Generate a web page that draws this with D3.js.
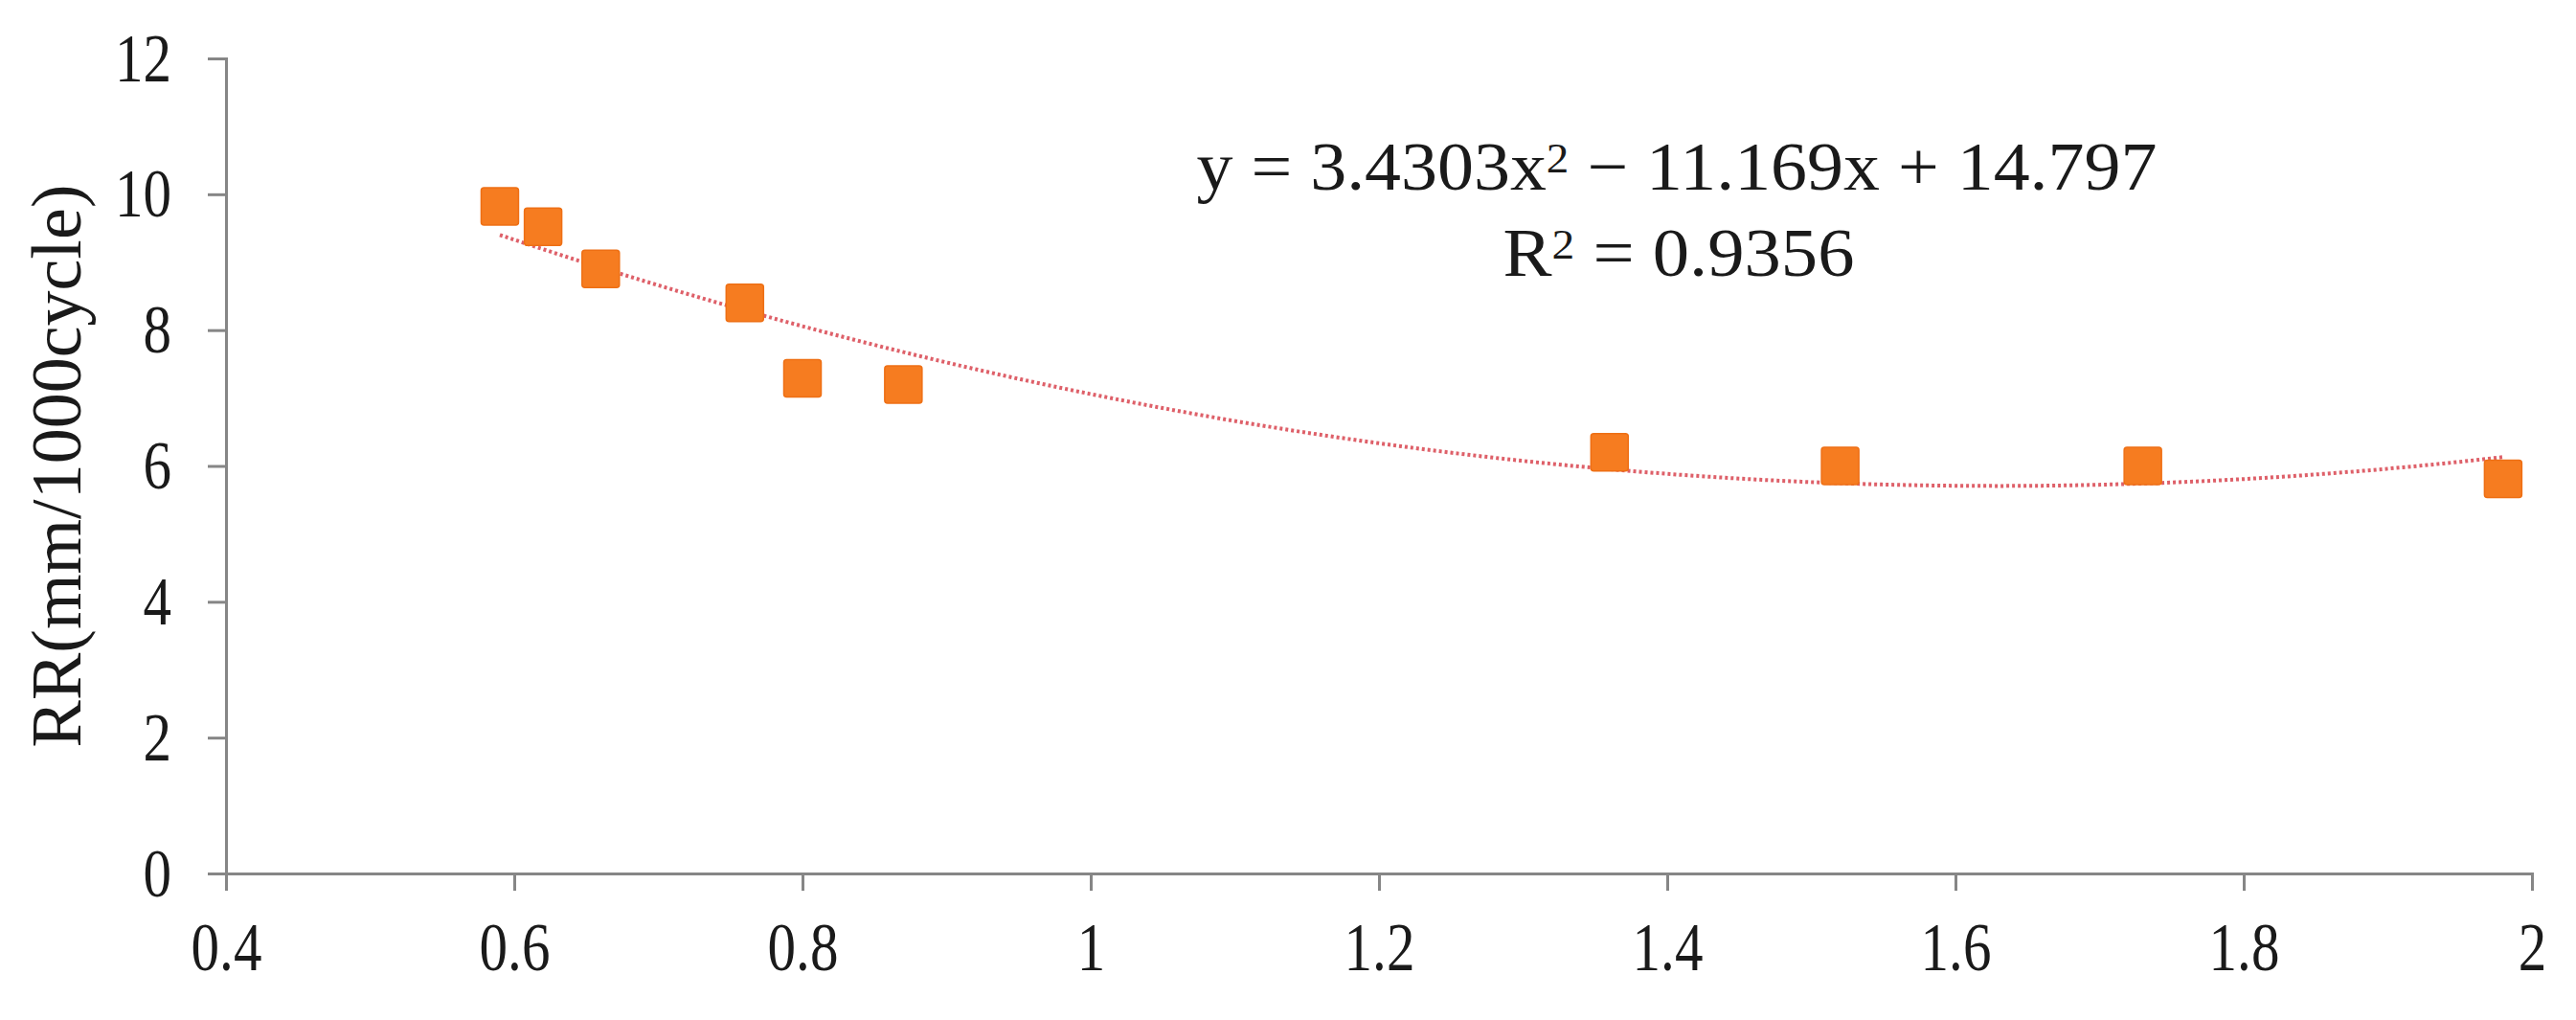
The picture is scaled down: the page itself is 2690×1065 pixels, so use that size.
<!DOCTYPE html>
<html>
<head>
<meta charset="utf-8">
<script src="https://cdn.jsdelivr.net/npm/d3@7"></script>
<style>
	body { margin: 0; background: #fff; }
	svg { display: block; }
	.tick text { font-family: "Liberation Serif", "Times New Roman", serif; fill: #1a1a1a; }
	.squeeze { transform-box: fill-box; transform: scaleX(0.82); }
</style>
</head>
<body>
<figure id="wear" style="margin:0"></figure>
<script>
// data
var ratio = [ 0.59, 0.62, 0.66, 0.76, 0.80, 0.87, 1.36, 1.52, 1.73, 1.98 ];
var wearRate = [ 9.82, 9.52, 8.90, 8.40, 7.29, 7.20, 6.20, 6.00, 6.00, 5.81 ];

// trend line coefficients from the label: c0 + c1*x + c2*x^2
var trendCoef = [ 14.797, -11.169, 3.4303 ];
var trendLabel = [ "y = 3.4303x", "2", " \u2212 11.169x + 14.797" ];
var r2Label = [ "R", "2", " = 0.9356" ];

var xTicks = [ 0.4, 0.6, 0.8, 1, 1.2, 1.4, 1.6, 1.8, 2 ];
var xTickLabels = [ "0.4", "0.6", "0.8", "1", "1.2", "1.4", "1.6", "1.8", "2" ];
var yTicks = [ 0, 2, 4, 6, 8, 10, 12 ];
var yTitle = "RR(mm/1000cycle)";

var dimensions = {
	width: 2690,
	height: 1065,
	margin: { top: 61, right: 46, bottom: 153, left: 236 }
};
dimensions.boundedWidth = dimensions.width - dimensions.margin.left - dimensions.margin.right;
dimensions.boundedHeight = dimensions.height - dimensions.margin.top - dimensions.margin.bottom;

var svg = d3.select( "figure#wear" )
	.append( "svg" )
	.attr( "width", dimensions.width )
	.attr( "height", dimensions.height );

svg.append( "rect" )
	.attr( "width", dimensions.width )
	.attr( "height", dimensions.height )
	.attr( "fill", "#fff" );

var chart = svg.append( "g" )
	.attr( "transform", `translate(${dimensions.margin.left},${dimensions.margin.top})` );

var xScale = d3.scaleLinear()
	.domain( [ 0.4, 2 ] )
	.range( [ 0, dimensions.boundedWidth ] );

var yScale = d3.scaleLinear()
	.domain( [ 0, 12 ] )
	.range( [ dimensions.boundedHeight, 0 ] );

var axisColor = "#868686";

// x axis
var xAxis = chart.append( "g" )
	.attr( "transform", `translate(0,${dimensions.boundedHeight})` )
	.call( d3.axisBottom( xScale )
		.tickValues( xTicks )
		.tickFormat( ( d, i ) => xTickLabels[ i ] )
		.tickSize( 18 )
		.tickSizeOuter( 18 )
		.tickPadding( 32 ) );
xAxis.select( ".domain" ).attr( "stroke", axisColor ).attr( "stroke-width", 3 );
xAxis.selectAll( ".tick line" ).attr( "stroke", axisColor ).attr( "stroke-width", 3 );
xAxis.selectAll( "text" )
	.attr( "class", "squeeze" )
	.style( "transform-origin", "center" )
	.style( "font-size", "72px" );

// y axis
var yAxis = chart.append( "g" )
	.call( d3.axisLeft( yScale )
		.tickValues( yTicks )
		.tickSize( 19 )
		.tickSizeOuter( 19 )
		.tickPadding( 38 ) );
yAxis.select( ".domain" ).attr( "stroke", axisColor ).attr( "stroke-width", 3 );
yAxis.selectAll( ".tick line" ).attr( "stroke", axisColor ).attr( "stroke-width", 3 );
yAxis.selectAll( "text" )
	.attr( "class", "squeeze" )
	.style( "transform-origin", "right center" )
	.style( "font-size", "72px" );

// y axis title
svg.append( "text" )
	.attr( "transform", `translate(84,${dimensions.margin.top + dimensions.boundedHeight / 2}) rotate(-90)` )
	.attr( "text-anchor", "middle" )
	.style( "font-family", "'Liberation Serif', 'Times New Roman', serif" )
	.style( "font-size", "74px" )
	.attr( "fill", "#1a1a1a" )
	.text( yTitle );

// polynomial trend line over the span of the data
var xExtent = d3.extent( ratio );
var trendX = d3.range( 0, 101 ).map( i => xExtent[ 0 ] + ( xExtent[ 1 ] - xExtent[ 0 ] ) * i / 100 );
var trendLine = d3.line()
	.x( d => xScale( d ) )
	.y( d => yScale( trendCoef[ 0 ] + trendCoef[ 1 ] * d + trendCoef[ 2 ] * d * d ) )
	.curve( d3.curveLinear );

chart.append( "path" )
	.datum( trendX )
	.attr( "d", trendLine )
	.attr( "fill", "none" )
	.attr( "stroke", "#d8444f" )
	.attr( "stroke-opacity", 0.85 )
	.attr( "stroke-width", 4 )
	.attr( "stroke-dasharray", "3,3" );

// square markers
var side = 39;
chart.selectAll( "rect.pt" )
	.data( ratio )
	.enter()
	.append( "rect" )
	.attr( "class", "pt" )
	.attr( "x", d => xScale( d ) - side / 2 )
	.attr( "y", ( d, i ) => yScale( wearRate[ i ] ) - side / 2 )
	.attr( "width", side )
	.attr( "height", side )
	.attr( "rx", 3 )
	.attr( "fill", "#f67c20" )
	.attr( "stroke", "#ee6f14" )
	.attr( "stroke-width", 1.5 );

// equation and R squared label
function fitLine( parts, cx, baseline, targetWidth ) {
	var t = svg.append( "text" )
		.style( "font-family", "'Liberation Serif', 'Times New Roman', serif" )
		.style( "font-size", "71px" )
		.attr( "fill", "#1a1a1a" );
	t.append( "tspan" ).text( parts[ 0 ] );
	t.append( "tspan" ).attr( "dy", "-0.42em" ).style( "font-size", "44px" ).text( parts[ 1 ] );
	t.append( "tspan" ).attr( "dy", "0.26em" ).text( parts[ 2 ] );
	var box = t.node().getBBox();
	var k = targetWidth / box.width;
	t.attr( "transform", `translate(${cx - ( box.x + box.width / 2 ) * k},${baseline}) scale(${k},1)` );
}
fitLine( trendLabel, 1751, 198, 1003 );
fitLine( r2Label, 1753, 288, 367 );
</script>
</body>
</html>
